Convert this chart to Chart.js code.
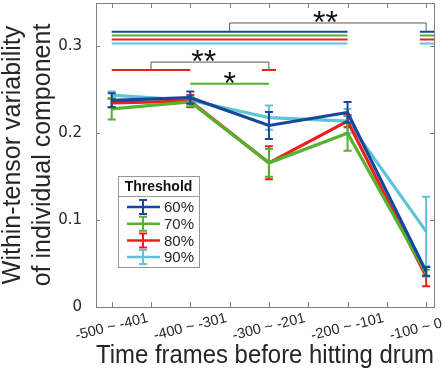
<!DOCTYPE html>
<html>
<head>
<meta charset="utf-8">
<script src="https://cdn.jsdelivr.net/npm/chart.js@4/dist/chart.umd.min.js"></script>
<style>
  html, body { margin: 0; padding: 0; background: #fff; }
  #chart1 { display: block; }
</style>
</head>
<body>
<canvas id="chart1" width="447" height="373"></canvas>
<script>
// categories (time frames) and thresholds
const categories = ['-500 ~ -401', '-400 ~ -301', '-300 ~ -201', '-200 ~ -101', '-100 ~ 0'];
const thresholds = ['60%', '70%', '80%', '90%'];
const yTicks = [0, 0.1, 0.2, 0.3];

// mean values and error bar half-lengths
const mean60 = [0.238, 0.241, 0.209, 0.224, 0.041];
const err60 = [0.008, 0.007, 0.0155, 0.012, 0.005];
const mean70 = [0.228, 0.236, 0.166, 0.200, 0.039];
const err70 = [0.012, 0.005, 0.016, 0.020, 0.004];
const mean80 = [0.235, 0.237, 0.166, 0.214, 0.035];
const err80 = [0.005, 0.007, 0.019, 0.007, 0.011];
const mean90 = [0.244, 0.238, 0.218, 0.214, 0.087];
const err90 = [0.004, 0.004, 0.014, 0.014, 0.040];

// significance bars (one per threshold) between frames 1..4 and frame 5
const sigLevels = [0.317, 0.3125, 0.308, 0.3035];
const sigRedLevel = 0.273;   // 80%: frames 1-2 vs frame 3
const sigGreenLevel = 0.257; // 70%: frame 2 vs frame 3

const colors = ['#17479c', '#55b22e', '#f01d1d', '#5cc5d6'];
const means = [mean60, mean70, mean80, mean90];
const errs = [err60, err70, err80, err90];

// 데이터셋 생성
var datasets = [];
for (var i = 0; i < thresholds.length; i++) {
  datasets.push({
    label: thresholds[i],
    data: means[i].map((v, j) => ({ x: j + 1, y: v })),
    errors: errs[i],
    borderColor: colors[i],
    backgroundColor: colors[i],
    borderWidth: 3.2,
    pointRadius: 0,
    fill: false,
  });
}

const FONT = "'Liberation Sans', Arial, sans-serif";
const SMALL = "'DejaVu Sans', sans-serif";
const TXT = '#262626';
const AXIS = '#808080';

// error bars drawn right after each line so the layering follows the series order
const errorBars = {
  id: 'errorBars',
  afterDatasetDraw(chart, args) {
    const ds = chart.data.datasets[args.index];
    const x = chart.scales.x, y = chart.scales.y, ctx = chart.ctx;
    ctx.save();
    ctx.strokeStyle = ds.borderColor;
    ctx.lineWidth = 2;
    ds.data.forEach((p, j) => {
      const e = ds.errors[j];
      const px = x.getPixelForValue(p.x);
      const t = y.getPixelForValue(p.y + e), b = y.getPixelForValue(p.y - e);
      ctx.beginPath();
      ctx.moveTo(px, t); ctx.lineTo(px, b);
      ctx.moveTo(px - 4, t); ctx.lineTo(px + 4, t);
      ctx.moveTo(px - 4, b); ctx.lineTo(px + 4, b);
      ctx.stroke();
    });
    ctx.restore();
  }
};

// text centred on its drawn glyphs
function star(ctx, text, px, py, size) {
  ctx.font = size + 'px ' + FONT;
  ctx.textAlign = 'center';
  ctx.textBaseline = 'alphabetic';
  ctx.fillStyle = '#111';
  const m = ctx.measureText(text);
  const off = (m.actualBoundingBoxAscent - m.actualBoundingBoxDescent) / 2;
  ctx.fillText(text, px, py + off);
}

// significance lines, brackets and stars
const significance = {
  id: 'significance',
  afterDatasetsDraw(chart) {
    const x = chart.scales.x, y = chart.scales.y, ctx = chart.ctx;
    const X = v => x.getPixelForValue(v), Y = v => y.getPixelForValue(v);
    ctx.save();
    ctx.lineWidth = 2;
    sigLevels.forEach((lv, i) => {
      ctx.strokeStyle = colors[i];
      ctx.beginPath();
      ctx.moveTo(X(1), Y(lv)); ctx.lineTo(X(4), Y(lv));
      ctx.moveTo(X(4.92), Y(lv)); ctx.lineTo(X(5.1), Y(lv));
      ctx.stroke();
    });
    ctx.strokeStyle = colors[2];
    ctx.beginPath();
    ctx.moveTo(X(1), Y(sigRedLevel)); ctx.lineTo(X(2), Y(sigRedLevel));
    ctx.moveTo(X(2.91), Y(sigRedLevel)); ctx.lineTo(X(3.09), Y(sigRedLevel));
    ctx.stroke();
    ctx.strokeStyle = colors[1];
    ctx.beginPath();
    ctx.moveTo(X(2), Y(sigGreenLevel)); ctx.lineTo(X(3), Y(sigGreenLevel));
    ctx.stroke();

    // brackets
    ctx.strokeStyle = '#555';
    ctx.lineWidth = 1;
    ctx.beginPath();
    ctx.moveTo(X(2.5), Y(sigLevels[0])); ctx.lineTo(X(2.5), Y(0.327));
    ctx.lineTo(X(5), Y(0.327)); ctx.lineTo(X(5), Y(0.318));
    ctx.moveTo(X(1.5), Y(sigRedLevel)); ctx.lineTo(X(1.5), Y(0.282));
    ctx.lineTo(X(3), Y(0.282)); ctx.lineTo(X(3), Y(sigRedLevel + 0.001));
    ctx.stroke();

    star(ctx, '**', X(3.72), Y(0.334), 32);
    star(ctx, '**', X(2.17), Y(0.2885), 32);
    star(ctx, '*', X(2.5), Y(0.264), 32);
    ctx.restore();
  }
};

// box, inward ticks, rotated x labels and the legend
const frame = {
  id: 'frame',
  afterDraw(chart) {
    const x = chart.scales.x, y = chart.scales.y, ctx = chart.ctx;
    const a = chart.chartArea;
    ctx.save();
    ctx.strokeStyle = AXIS;
    ctx.lineWidth = 1;
    ctx.strokeRect(Math.round(a.left) + 0.5, Math.round(a.top) + 0.5,
      Math.round(a.right - a.left), Math.round(a.bottom - a.top));
    ctx.beginPath();
    for (let v = 1; v <= categories.length; v += 0.5) {
      const px = Math.round(x.getPixelForValue(v)) + 0.5;
      ctx.moveTo(px, a.bottom); ctx.lineTo(px, a.bottom - 5);
      ctx.moveTo(px, a.top); ctx.lineTo(px, a.top + 5);
    }
    yTicks.forEach(v => {
      const py = Math.round(y.getPixelForValue(v)) + 0.5;
      ctx.moveTo(a.left, py); ctx.lineTo(a.left + 4, py);
      ctx.moveTo(a.right, py); ctx.lineTo(a.right - 4, py);
    });
    ctx.stroke();

    // x tick labels, rotated, anchored on the "~"
    ctx.font = '14.5px ' + FONT;
    ctx.fillStyle = TXT;
    ctx.textBaseline = 'middle';
    ctx.textAlign = 'left';
    categories.forEach((c, j) => {
      const px = x.getPixelForValue(j + 1);
      const k = c.indexOf('~');
      const pre = ctx.measureText(c.slice(0, k)).width + ctx.measureText('~').width / 2;
      ctx.save();
      ctx.translate(px, a.bottom + 20);
      ctx.rotate(-14 * Math.PI / 180);
      ctx.fillText(c, -pre, 0);
      ctx.restore();
    });

    // legend
    const lx = a.left + 22, ly = a.top + 173, lw = 81, lh = 91;
    ctx.fillStyle = '#fff';
    ctx.fillRect(lx, ly, lw, lh);
    ctx.strokeStyle = '#999';
    ctx.strokeRect(lx + 0.5, ly + 0.5, lw, lh);
    ctx.beginPath();
    ctx.moveTo(lx, ly + 20.5); ctx.lineTo(lx + lw, ly + 20.5);
    ctx.stroke();
    ctx.fillStyle = '#111';
    ctx.font = 'bold 14px ' + FONT;
    ctx.textAlign = 'center';
    ctx.fillText('Threshold', lx + lw / 2, ly + 11);
    ctx.font = '15px ' + FONT;
    ctx.textAlign = 'left';
    thresholds.forEach((t, i) => {
      const ry = ly + 31 + i * 16.7;
      ctx.strokeStyle = colors[i];
      ctx.lineWidth = 2.5;
      ctx.beginPath();
      ctx.moveTo(lx + 9, ry); ctx.lineTo(lx + 42, ry);
      ctx.stroke();
      ctx.lineWidth = 2;
      ctx.beginPath();
      ctx.moveTo(lx + 25, ry - 7); ctx.lineTo(lx + 25, ry + 7);
      ctx.moveTo(lx + 21, ry - 7); ctx.lineTo(lx + 29, ry - 7);
      ctx.moveTo(lx + 21, ry + 7); ctx.lineTo(lx + 29, ry + 7);
      ctx.stroke();
      ctx.fillStyle = TXT;
      ctx.fillText(t, lx + 46, ry + 1);
    });
    ctx.restore();
  }
};

var ctx = document.getElementById('chart1').getContext('2d');
new Chart(ctx, {
  type: 'line',
  data: { datasets: datasets },
  options: {
    responsive: false,
    animation: false,
    layout: { padding: { top: 3, right: 13 } },
    plugins: { legend: { display: false }, tooltip: { enabled: false } },
    scales: {
      x: {
        type: 'linear',
        min: 0.8,
        max: 5.1,
        afterFit(s) { s.height = 66; s.paddingLeft = 0; s.paddingRight = 0; },
        grid: { display: false },
        border: { display: false },
        ticks: { display: false },
        title: {
          display: true,
          text: 'Time frames before hitting drum',
          color: TXT,
          font: { family: FONT, size: 25 },
          padding: { top: 0, bottom: 2 },
        },
      },
      y: {
        min: 0,
        max: 0.35,
        afterFit(s) { s.width = 96; s.paddingTop = 0; s.paddingBottom = 0; },
        afterBuildTicks(s) { s.ticks = yTicks.map(v => ({ value: v })); },
        grid: { display: false },
        border: { display: false },
        ticks: {
          color: TXT,
          padding: 6,
          font: { family: SMALL, size: 15 },
          callback: v => (v === 0 ? '0' : v.toFixed(1)),
        },
        title: {
          display: true,
          text: ['Within-tensor variability', 'of individual component'],
          color: TXT,
          font: { family: FONT, size: 25 },
          padding: { top: -2, bottom: 0 },
        },
      },
    },
  },
  plugins: [errorBars, significance, frame],
});
</script>
</body>
</html>
